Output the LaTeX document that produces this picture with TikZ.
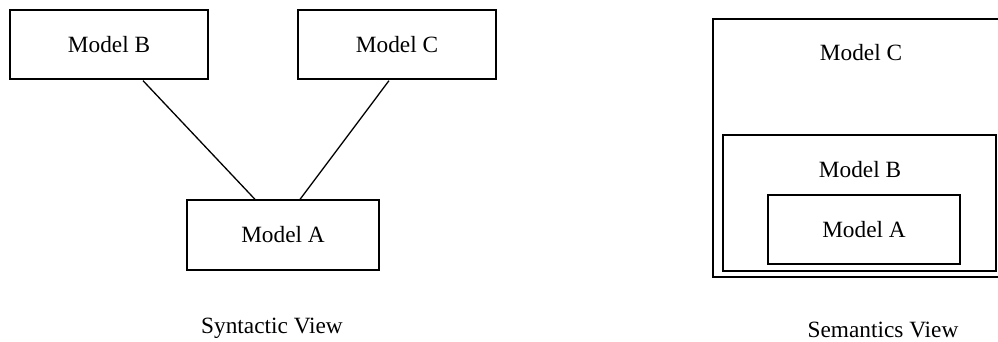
\documentclass[tikz,border=0pt]{standalone}
\usepackage{fontspec}
\setmainfont{Liberation Serif}
\usetikzlibrary{calc}
\begin{document}
\begin{tikzpicture}[x=1pt,y=-1pt,
  box/.style={draw,line width=1.3pt,inner sep=0pt},
  lbl/.style={inner sep=0pt,font=\fontsize{23.3}{27}\selectfont},
  conn/.style={line width=1.3pt}]
\useasboundingbox (0,0) rectangle (998,341);
% Syntactic view
\node[box,lbl,minimum width=198pt,minimum height=69pt] (B) at (109,44.5) {Model B};
\node[box,lbl,minimum width=198pt,minimum height=69pt] (C) at (397,44.5) {Model C};
\node[box,lbl,minimum width=192pt,minimum height=70pt] (A) at (283,235) {Model A};
\draw[conn] ($(B.south)+(34,1)$) -- ($(A.north)+(-28,0)$);
\draw[conn] ($(C.south)+(-8,1)$) -- ($(A.north)+(17,0)$);
\node[lbl] (syn) at (272,328) {Syntactic View};
% Semantics view
\node[box,line width=1.5pt,minimum width=292pt,minimum height=258pt] (sC) at (859,148) {};
\node[box,minimum width=273pt,minimum height=136pt] (sB) at (859.5,203) {};
\node[box,lbl,minimum width=192pt,minimum height=69pt] (sA) at (864,229.5) {Model A};
\node[lbl] (sCl) at (861,53) {Model C};
\node[lbl] (sBl) at (860,170) {Model B};
\node[lbl] (sem) at (883,330) {Semantics View};
\end{tikzpicture}
\end{document}
